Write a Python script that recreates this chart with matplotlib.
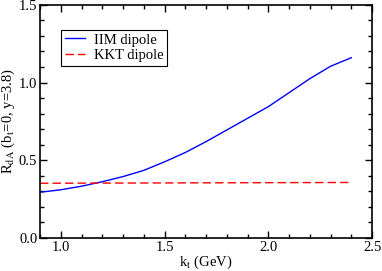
import matplotlib
matplotlib.use("Agg")
import matplotlib.pyplot as plt
from matplotlib.ticker import MultipleLocator

# R_dA vs k_t
kt = [0.9, 1.0, 1.1, 1.2, 1.3, 1.4, 1.5, 1.6, 1.7, 1.8, 1.9, 2.0, 2.1, 2.2, 2.3, 2.4]
iim = [0.294, 0.31, 0.333, 0.362, 0.395, 0.435, 0.49, 0.55, 0.62, 0.695,
       0.77, 0.845, 0.935, 1.025, 1.105, 1.16]
kkt_x = [0.9, 2.4]
kkt = [0.352, 0.357]

plt.rcParams['font.family'] = ['Liberation Serif', 'DejaVu Serif']
plt.rcParams['mathtext.fontset'] = 'stix'

fig = plt.figure(figsize=(3.82, 2.71), dpi=100)
ax = fig.add_axes([0.105, 0.122, 0.869, 0.86])

ax.plot(kt, iim, color='#0000ff', lw=1.0, label='IIM dipole')
ax.plot(kkt_x, kkt, color='#ff0000', lw=1.0, dashes=(6, 3), label='KKT dipole')

ax.set_xlim(0.9, 2.5)
ax.set_ylim(0.0, 1.5)
ax.xaxis.set_major_locator(MultipleLocator(0.5))
ax.xaxis.set_minor_locator(MultipleLocator(0.1))
ax.yaxis.set_major_locator(MultipleLocator(0.5))
ax.yaxis.set_minor_locator(MultipleLocator(0.1))
ax.tick_params(which='both', direction='in', top=True, right=True, labelsize=10.5, width=1.0)
ax.tick_params(which='major', length=5, pad=2)
ax.tick_params(which='minor', length=3)
for s in ax.spines.values():
    s.set_linewidth(1.2)

ax.set_xlabel(r'k$_{\mathrm{t}}$ (GeV)', fontsize=10.5, labelpad=0)
ax.set_ylabel(r'R$_{\mathrm{dA}}$ (b$_{\mathrm{t}}$=0, y=3.8)', fontsize=10.5, labelpad=1)

leg = ax.legend(loc='upper left', bbox_to_anchor=(0.042, 0.925), fontsize=10.5,
                fancybox=False, framealpha=1, edgecolor='black',
                handlelength=1.4, borderpad=0.25, labelspacing=0.15, handletextpad=0.6)
leg.get_frame().set_linewidth(0.8)

fig.savefig('out.png', dpi=100)
